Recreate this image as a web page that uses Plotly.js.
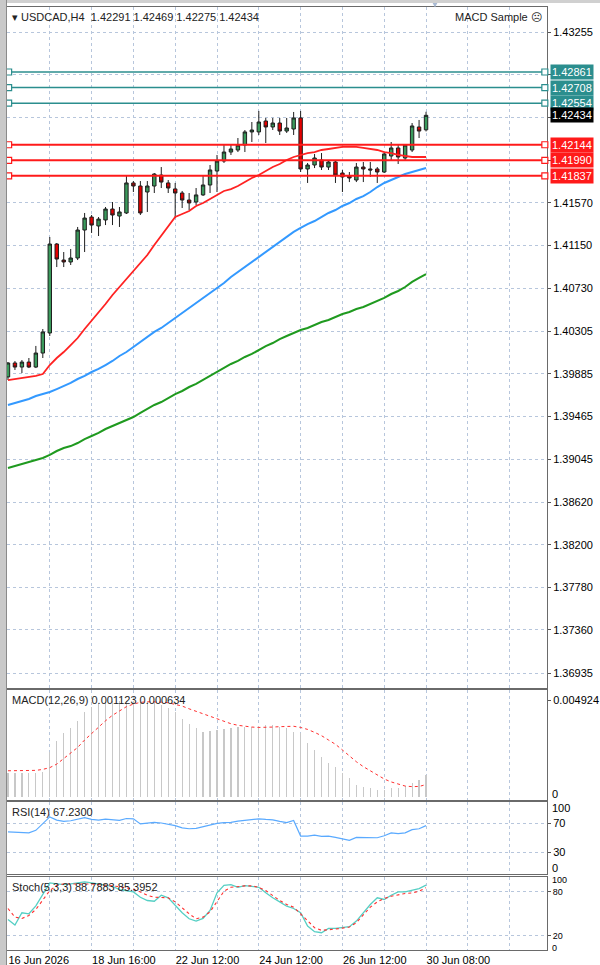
<!DOCTYPE html>
<html><head><meta charset="utf-8">
<script src="https://cdn.plot.ly/plotly-3.0.1.min.js"></script>
<style>
html,body{margin:0;padding:0;background:#fff;}
#wrap{position:relative;width:600px;height:965px;overflow:hidden;}
#chart{position:absolute;left:0;top:0;width:600px;height:965px;}
#lstrip{position:absolute;left:0;top:0;width:6px;height:965px;background:#c9c9c9;border-right:1px solid #8a8a8a;}
#tstrip{position:absolute;left:0;top:0;width:600px;height:3px;background:#d0d0d0;}
</style>
</head><body>
<div id="wrap"><div id="chart"></div><div id="tstrip"></div><div id="lstrip"></div></div>
<script>
// ---- data ----
const symbol = 'USDCAD,H4';
const dateLabels = ['16 Jun 2026','18 Jun 16:00','22 Jun 12:00','24 Jun 12:00','26 Jun 12:00','30 Jun 08:00'];
const dateLabelBars = [0,12,24,36,48,60];

const open = [1.39854,1.39992,1.39952,1.40001,1.39952,1.40090,1.40288,1.41165,1.41007,1.40988,
1.41027,1.41303,1.41431,1.41343,1.41402,1.41510,1.41441,1.41471,1.41767,1.41737,
1.41678,1.41737,1.41845,1.41767,1.41708,1.41668,1.41599,1.41579,1.41649,1.41747,
1.41885,1.41983,1.42072,1.42092,1.42141,1.42270,1.42270,1.42378,1.42319,1.42358,
1.42279,1.42299,1.42408,1.41905,1.41944,1.41993,1.41924,1.41974,1.41865,1.41836,
1.41796,1.41924,1.41905,1.41905,1.41875,1.42033,1.42112,1.42013,1.42092,1.42319,
1.42291];
const high = [1.40001,1.40011,1.40021,1.40041,1.40160,1.40327,1.41234,1.41175,1.41086,1.41116,
1.41333,1.41471,1.41451,1.41431,1.41530,1.41579,1.41530,1.41836,1.41786,1.41786,
1.41786,1.41865,1.41924,1.41796,1.41767,1.41688,1.41668,1.41717,1.41845,1.41944,
1.42043,1.42151,1.42151,1.42210,1.42289,1.42368,1.42477,1.42408,1.42408,1.42408,
1.42408,1.42467,1.42477,1.41964,1.42053,1.42062,1.41993,1.41993,1.41895,1.41875,
1.41964,1.41974,1.41974,1.41924,1.42062,1.42171,1.42151,1.42151,1.42358,1.42388,
1.42469];
const low = [1.39824,1.39923,1.39893,1.39942,1.39942,1.40041,1.40258,1.40938,1.40938,1.40958,
1.41007,1.41086,1.41274,1.41244,1.41352,1.41352,1.41333,1.41461,1.41678,1.41451,
1.41481,1.41668,1.41717,1.41668,1.41421,1.41520,1.41500,1.41550,1.41639,1.41668,
1.41678,1.41964,1.42043,1.42072,1.42072,1.42171,1.42240,1.42161,1.42289,1.42240,
1.42260,1.42240,1.41875,1.41767,1.41914,1.41895,1.41895,1.41767,1.41678,1.41776,
1.41776,1.41776,1.41826,1.41767,1.41865,1.41993,1.41954,1.41993,1.42072,1.42210,
1.42275];
const close = [1.39992,1.39952,1.40001,1.39952,1.40090,1.40298,1.41165,1.41017,1.40988,1.41027,
1.41303,1.41421,1.41352,1.41411,1.41510,1.41451,1.41481,1.41767,1.41737,1.41471,
1.41737,1.41855,1.41776,1.41717,1.41668,1.41599,1.41570,1.41649,1.41747,1.41895,
1.41983,1.42072,1.42102,1.42141,1.42270,1.42289,1.42368,1.42319,1.42358,1.42279,
1.42309,1.42408,1.41905,1.41944,1.42013,1.41924,1.41974,1.41845,1.41826,1.41816,
1.41924,1.41905,1.41895,1.41875,1.42053,1.42112,1.42023,1.42141,1.42329,1.42279,
1.42434];

const maRed = [1.39824,1.39834,1.39844,1.39854,1.39864,1.39883,1.39972,1.40041,1.40100,1.40169,
1.40238,1.40327,1.40406,1.40485,1.40574,1.40662,1.40741,1.40820,1.40899,1.40978,
1.41057,1.41155,1.41244,1.41333,1.41431,1.41461,1.41491,1.41540,1.41569,1.41609,
1.41648,1.41688,1.41707,1.41737,1.41776,1.41816,1.41845,1.41885,1.41924,1.41954,
1.41993,1.42023,1.42043,1.42062,1.42072,1.42092,1.42102,1.42112,1.42122,1.42122,
1.42122,1.42112,1.42102,1.42092,1.42072,1.42062,1.42043,1.42033,1.42023,1.42023,
1.42023];
const maBlue = [1.39578,1.39597,1.39617,1.39637,1.39666,1.39686,1.39706,1.39735,1.39765,1.39795,
1.39834,1.39864,1.39903,1.39933,1.39972,1.40012,1.40061,1.40100,1.40150,1.40199,
1.40248,1.40298,1.40337,1.40386,1.40436,1.40485,1.40534,1.40583,1.40633,1.40682,
1.40731,1.40781,1.40840,1.40889,1.40938,1.40988,1.41037,1.41086,1.41136,1.41185,
1.41234,1.41284,1.41323,1.41362,1.41392,1.41431,1.41471,1.41500,1.41540,1.41569,
1.41609,1.41638,1.41678,1.41727,1.41767,1.41796,1.41826,1.41855,1.41875,1.41895,
1.41914];
const maGreen = [1.38957,1.38976,1.38996,1.39016,1.39035,1.39055,1.39085,1.39124,1.39154,1.39173,
1.39203,1.39242,1.39272,1.39302,1.39341,1.39371,1.39400,1.39430,1.39459,1.39499,
1.39538,1.39578,1.39607,1.39647,1.39686,1.39716,1.39755,1.39785,1.39824,1.39864,
1.39903,1.39943,1.39982,1.40012,1.40051,1.40081,1.40120,1.40159,1.40189,1.40228,
1.40258,1.40288,1.40317,1.40337,1.40367,1.40396,1.40416,1.40445,1.40475,1.40495,
1.40524,1.40544,1.40574,1.40603,1.40633,1.40672,1.40702,1.40741,1.40791,1.40830,
1.40869];

const resistanceLevels = [1.42861,1.42708,1.42554];
const supportLevels = [1.42144,1.41990,1.41837];

const priceTicks = [1.43255,1.42834,1.42413,1.41991,1.41570,1.41150,1.40730,1.40305,1.39885,1.39465,1.39045,1.38620,1.38200,1.37780,1.37360,1.36935];
const priceTickText = ['1.43255','','','','1.41570','1.41150','1.40730','1.40305','1.39885','1.39465','1.39045','1.38620','1.38200','1.37780','1.37360','1.36935'];

const macdMain = [0.00125,0.00124,0.00124,0.00123,0.00124,0.00126,0.00231,0.00287,0.00325,0.00353,
0.00389,0.00432,0.00461,0.00478,0.00484,0.00488,0.004924,0.00490,0.00489,0.00486,
0.00484,0.00482,0.00469,0.00452,0.00435,0.00396,0.00372,0.00350,0.00333,0.00338,
0.00342,0.00345,0.00350,0.00355,0.00355,0.00359,0.00362,0.00367,0.00367,0.00359,
0.00350,0.00333,0.00328,0.00277,0.00240,0.00206,0.00175,0.00151,0.00121,0.00095,
0.00061,0.00053,0.00044,0.00036,0.00036,0.00044,0.00048,0.00054,0.00071,0.00085,
0.001123];
const macdSignal = [0.00134,0.00134,0.00134,0.00134,0.00136,0.00141,0.00150,0.00168,0.00197,0.00223,
0.00253,0.00291,0.00325,0.00359,0.00389,0.00417,0.00440,0.00461,0.00474,0.00483,
0.00486,0.00486,0.00484,0.00481,0.00474,0.00464,0.00450,0.00437,0.00423,0.00410,
0.00396,0.00384,0.00374,0.00366,0.00361,0.00357,0.00355,0.00355,0.00357,0.00359,
0.00361,0.00361,0.00355,0.00345,0.00330,0.00313,0.00291,0.00269,0.00240,0.00209,
0.00180,0.00155,0.00133,0.00111,0.00092,0.00077,0.00065,0.00056,0.00053,0.00054,
0.000634];
const macdScale = [0, 0.004924];

const rsi = [58.4,58.0,58.0,57.2,60.7,69.6,79.3,74.9,73.1,74.0,
76.7,78.4,75.8,74.9,76.2,74.9,74.5,77.1,76.7,69.6,
70.9,71.8,70.9,69.1,67.3,64.2,62.9,63.3,66.0,68.7,
70.4,71.3,71.8,73.6,74.5,74.9,76.7,75.8,75.3,73.1,
71.3,74.5,52.7,52.7,54.0,52.2,52.7,50.9,48.7,46.9,
50.9,50.9,50.9,50.4,53.1,57.1,56.2,57.1,61.6,62.9,
67.23];
const rsiScale = [0,100];
const rsiLevels = [30,70];

const stochMain = [41.9,34.1,51.0,49.6,60.5,76.0,91.9,90.5,89.6,90.5,
91.9,93.3,91.9,90.5,88.7,87.3,82.8,81.4,79.6,72.3,
67.8,66.8,75.0,71.5,61.4,51.0,42.8,39.6,43.2,54.2,
78.3,88.7,89.6,85.9,88.3,87.3,85.9,78.3,71.5,66.0,
60.0,56.9,51.0,32.7,25.1,23.7,29.6,29.6,30.6,31.9,
39.6,51.0,62.3,71.5,69.2,75.0,79.6,79.6,81.4,84.2,
88.7883];
const stochSignal = [56.9,45.0,43.2,47.3,55.5,69.2,81.4,88.7,90.5,90.5,
90.0,90.5,90.5,89.6,89.6,88.7,86.9,85.1,83.2,79.6,
75.0,72.3,72.3,71.5,66.0,57.8,49.6,42.8,45.0,52.3,
66.8,80.5,85.9,87.3,87.8,87.8,85.9,81.4,74.6,67.8,
62.3,58.7,49.6,39.6,30.6,26.9,27.4,28.7,30.0,31.4,
37.4,47.8,58.7,66.0,70.5,73.7,76.0,77.4,78.3,80.5,
85.3952];
const stochScale = [0,100];
const stochLevels = [20,80];

// ---- build ----
const bars = open.map((_, i) => i);
const last = open.length - 1;
const FONT = 'Liberation Sans, Arial, sans-serif';
const GRID = '#b7c6dc';
const FRAME = '#6a6a6a';
const TEAL = '#2b8e8e';
const RED = '#ff1a1a';
const xRange = [-0.14, 77.36];

const traces = [
  {type:'candlestick', x:bars, open:open, high:high, low:low, close:close, xaxis:'x', yaxis:'y',
   increasing:{line:{color:'#1e1e1e', width:1}, fillcolor:'#3a9a5c'},
   decreasing:{line:{color:'#1e1e1e', width:1}, fillcolor:'#e60000'},
   whiskerwidth:0, hoverinfo:'skip', showlegend:false},
  {type:'scatter', mode:'lines', x:bars, y:maGreen, xaxis:'x', yaxis:'y', line:{color:'#1f9a1f', width:2}, hoverinfo:'skip', showlegend:false},
  {type:'scatter', mode:'lines', x:bars, y:maBlue, xaxis:'x', yaxis:'y', line:{color:'#3399ff', width:2}, hoverinfo:'skip', showlegend:false},
  {type:'scatter', mode:'lines', x:bars, y:maRed, xaxis:'x', yaxis:'y', line:{color:'#ff2222', width:1.8}, hoverinfo:'skip', showlegend:false},
  {type:'bar', x:bars, y:macdMain, xaxis:'x2', yaxis:'y2', width:0.17, marker:{color:'#c8c8c8', line:{width:0}}, hoverinfo:'skip', showlegend:false},
  {type:'scatter', mode:'lines', x:bars, y:macdSignal, xaxis:'x2', yaxis:'y2', line:{color:'#ff3030', width:1, dash:'dot'}, hoverinfo:'skip', showlegend:false},
  {type:'scatter', mode:'lines', x:bars, y:rsi, xaxis:'x3', yaxis:'y3', line:{color:'#5aaaff', width:1.2}, hoverinfo:'skip', showlegend:false},
  {type:'scatter', mode:'lines', x:bars, y:stochMain, xaxis:'x4', yaxis:'y4', line:{color:'#55cfc4', width:1.3}, hoverinfo:'skip', showlegend:false},
  {type:'scatter', mode:'lines', x:bars, y:stochSignal, xaxis:'x4', yaxis:'y4', line:{color:'#ff3030', width:1.1, dash:'dot'}, hoverinfo:'skip', showlegend:false}
];

function xAxis(anchor, showLabels){
  const a = {anchor:anchor, range:xRange, fixedrange:true, showline:true, mirror:true, linecolor:FRAME, linewidth:1,
    zeroline:false, showgrid:true, gridcolor:GRID, griddash:'dot', gridwidth:1, ticks:'',
    rangeslider:{visible:false}};
  if (showLabels){
    a.tickmode = 'array'; a.tickvals = dateLabelBars; a.ticktext = dateLabels;
    a.ticklabelposition = 'outside right';
    a.tickfont = {family:FONT, size:11, color:'#000'};
    a.minor = {tickmode:'linear', tick0:0, dtick:6, showgrid:true, gridcolor:GRID, griddash:'dot', gridwidth:1, ticks:''};
  } else {
    a.tickmode = 'linear'; a.tick0 = 0; a.dtick = 6; a.showticklabels = false;
  }
  return a;
}
function yAxis(anchor, domain, range, tickvals, ticktext, grid, fsize){
  return {anchor:anchor, domain:domain, range:range, side:'right', fixedrange:true,
    showline:true, mirror:true, linecolor:FRAME, linewidth:1, zeroline:false,
    tickmode:'array', tickvals:tickvals, ticktext:ticktext, ticks:'outside', ticklen:3, tickcolor:'#555',
    tickfont:{family:FONT, size:fsize || 11, color:'#000'},
    showgrid:grid, gridcolor:GRID, griddash:'dot', gridwidth:1};
}

const shapes = [];
const annotations = [];
function addLevel(v, color, w){
  shapes.push({type:'line', xref:'paper', yref:'y', x0:0, x1:1, y0:v, y1:v, line:{color:color, width:w}});
  [0.003, 0.996].forEach(px => shapes.push({type:'rect', xref:'paper', yref:'y', xsizemode:'pixel', ysizemode:'pixel',
    xanchor:px, yanchor:v, x0:-3, x1:3, y0:-3, y1:3, line:{color:color, width:1.2}, fillcolor:'#fff'}));
  annotations.push({xref:'paper', yref:'y', x:1, y:v, xanchor:'left', yanchor:'middle', xshift:3, showarrow:false,
    text:v.toFixed(5), bgcolor:color, borderpad:1, font:{family:FONT, size:11, color:'#fff'}});
}
resistanceLevels.forEach(v => addLevel(v, TEAL, 1.5));
supportLevels.forEach(v => addLevel(v, RED, 2));
annotations.push({xref:'paper', yref:'y', x:1, y:close[last], xanchor:'left', yanchor:'middle', xshift:3, showarrow:false,
  text:close[last].toFixed(5), bgcolor:'#000', borderpad:1, font:{family:FONT, size:11, color:'#fff'}});

// scale-end labels kept inside each sub-window (as the terminal draws them)
function scaleEnd(text, yref, atTop, fsize, shift){
  annotations.push({xref:'paper', yref:yref, x:1, y:atTop ? 1 : 0, xanchor:'left', yanchor:atTop ? 'top' : 'bottom',
    xshift:4, yshift:shift, showarrow:false, borderpad:0, text:text, font:{family:FONT, size:fsize, color:'#000'}});
}
scaleEnd(String(rsiScale[1]), 'y3 domain', true, 11, 1);
scaleEnd(String(rsiScale[0]), 'y3 domain', false, 11, -1);
scaleEnd(String(stochScale[1]), 'y4 domain', true, 9, 3);
scaleEnd(String(stochScale[0]), 'y4 domain', false, 9, -4);
scaleEnd(String(macdScale[0]), 'y2 domain', false, 11, -1);

function label(text, yref, x, xanchor){
  annotations.push({xref:'paper', yref:yref, x:x, y:1, xanchor:xanchor, yanchor:'top', xshift:xanchor==='left'?3:-3, yshift:-2,
    showarrow:false, text:text, font:{family:FONT, size:11, color:'#222'}});
}
label('\u25BE ' + symbol + '  ' + [open[last], high[last], low[last], close[last]].map(v => v.toFixed(5)).join(' '), 'y domain', 0, 'left');
label('MACD Sample \u2639', 'y domain', 1, 'right');
label('MACD(12,26,9) ' + macdMain[last].toFixed(6) + ' ' + macdSignal[last].toFixed(6), 'y2 domain', 0, 'left');
label('RSI(14) ' + rsi[last].toFixed(4), 'y3 domain', 0, 'left');
label('Stoch(5,3,3) ' + stochMain[last].toFixed(4) + ' ' + stochSignal[last].toFixed(4), 'y4 domain', 0, 'left');

// chart-shift marker at the top edge
shapes.push({type:'path', xref:'paper', yref:'paper', path:'M 0.7852 1.0074 L 0.8 1.0074 L 0.7926 0.9995 Z',
  fillcolor:'#a9bad3', line:{width:0}});

const layout = {
  width:600, height:965, margin:{l:7, r:53, t:7, b:15, pad:0},
  paper_bgcolor:'#fff', plot_bgcolor:'#fff', showlegend:false, dragmode:false, bargap:0,
  font:{family:FONT, size:11, color:'#000'},
  xaxis: xAxis('y', false),
  xaxis2: xAxis('y2', false),
  xaxis3: xAxis('y3', false),
  xaxis4: xAxis('y4', true),
  yaxis: yAxis('x', [0.2778, 1], [1.36787, 1.43502], priceTicks, priceTickText, true),
  yaxis2: yAxis('x2', [0.1591, 0.2757], [-0.00015, 0.00546], [macdScale[1]], [macdScale[1].toFixed(6)], false),
  yaxis3: yAxis('x3', [0.0806, 0.1569], rsiScale, rsiLevels, rsiLevels.map(String), true),
  yaxis4: yAxis('x4', [0, 0.0774], stochScale, stochLevels, stochLevels.map(String), true, 9),
  shapes: shapes, annotations: annotations
};
Plotly.newPlot('chart', traces, layout, {staticPlot:true, displayModeBar:false});
</script>
</body></html>
